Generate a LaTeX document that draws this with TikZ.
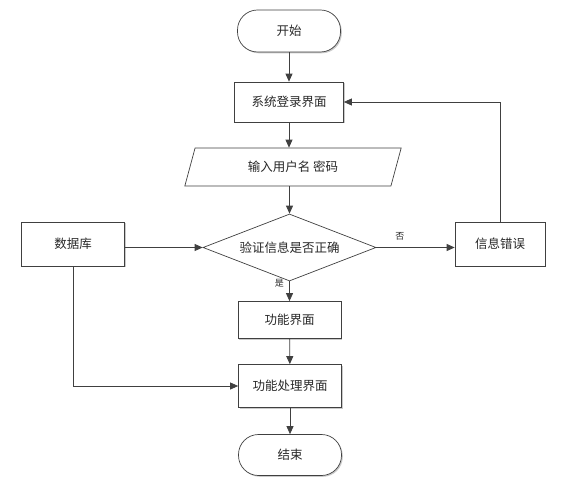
\documentclass[tikz,border=0pt]{standalone}
\usepackage{fontspec}
\newfontfamily\cjk{Noto Sans CJK SC}
\definecolor{LineGrey}{RGB}{64,64,64}
\definecolor{TextGrey}{RGB}{40,40,40}
\usetikzlibrary{shapes,arrows.meta,positioning,shadows}

\begin{document}
\begin{tikzpicture}[x=1pt,y=-1pt, font=\cjk\fontsize{12.5}{15}\selectfont, text=TextGrey,
    shade/.style={drop shadow={shadow xshift=1.3pt,shadow yshift=-1.3pt,fill=black!35,opacity=0.6}},
    box/.style={draw=LineGrey, line width=0.7pt, fill=white, rectangle, minimum width=103pt, minimum height=40pt, inner sep=0pt, shade},
    terminal/.style={box, rounded corners=20pt, minimum height=42pt},
    inputbox/.style={draw=LineGrey, line width=0.7pt, fill=white, trapezium, trapezium left angle=68, trapezium right angle=112, trapezium stretches=true, minimum width=217pt, minimum height=38pt, inner sep=0pt},
    decision/.style={draw=LineGrey, line width=0.7pt, fill=white, diamond, aspect=2.6, minimum width=173pt, minimum height=67pt, inner sep=0pt},
    flow/.style={draw=LineGrey, line width=0.8pt, -{Triangle[length=8pt,width=7pt]}},
    tag/.style={font=\cjk\fontsize{9}{11}\selectfont}]
    \useasboundingbox (0,0) rectangle (575,486);

    % Main column
    \node[terminal] (start) at (289,31) {开始};
    \node[box, minimum width=109pt] (login) at (289,102) {系统登录界面};
    \node[inputbox] (input) at (293,167) {输入用户名 密码};
    \node[decision] (check) at (289.5,247.5) {验证信息是否正确};
    \node[box, minimum height=37pt] (func) at (289.5,320) {功能界面};
    \node[box, minimum height=43pt] (handle) at (290,386) {功能处理界面};
    \node[terminal, minimum height=41pt] (stop) at (290,455) {结束};

    % Side boxes
    \node[box, minimum height=44pt] (db) at (73,244) {数据库};
    \node[box, minimum width=90pt, minimum height=44pt] (error) at (500,244) {信息错误};
    \coordinate (dbturn) at (db.south |- handle.west);
    \coordinate (errturn) at (error.north |- login.east);

    % Arrows
    \draw[flow] (start) -- (login);
    \draw[flow] (login) -- (input.north -| login.south);
    \draw[flow] (input.south -| check.north) -- (check.north);
    \draw[flow] (db.east |- check.west) -- (check.west);
    \draw[flow] (check.east) -- node[tag, above, pos=0.3, yshift=4pt] {否} (error.west |- check.east);
    \draw[flow] (check.south) -- node[tag, left, pos=0.1, xshift=-2pt] {是} (func.north);
    \draw[flow] (func) -- (handle);
    \draw[flow] (db.south) -- (dbturn) -- (handle.west);
    \draw[flow] (handle) -- (stop);
    \draw[flow] (error.north) -- (errturn) -- (login.east);
\end{tikzpicture}
\end{document}
